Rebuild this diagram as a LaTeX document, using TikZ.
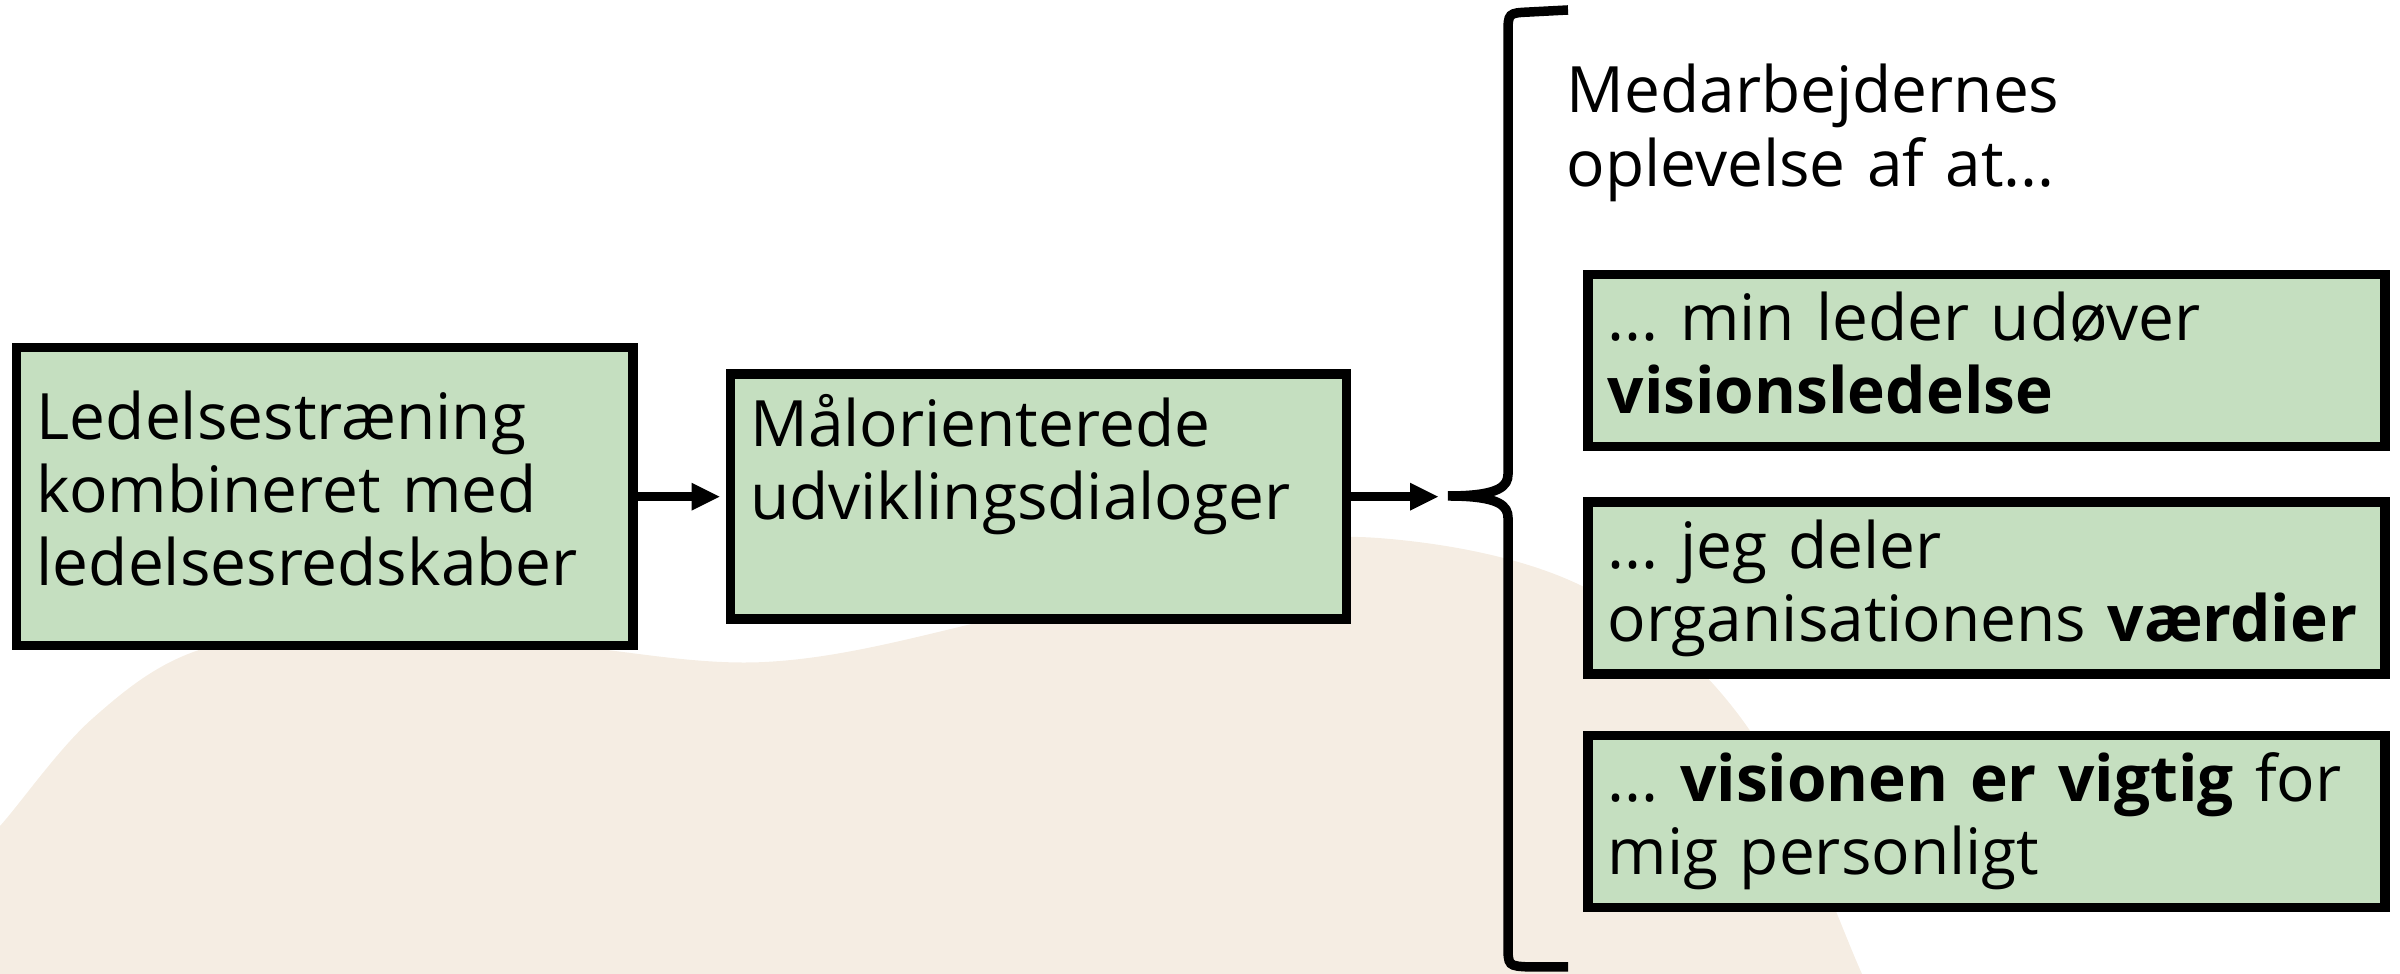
\documentclass[tikz,border=0pt]{standalone}
\usepackage{fontspec}
\setmainfont{Open Sans}
\frenchspacing
\usetikzlibrary{arrows.meta,positioning}
\definecolor{boxgreen}{HTML}{C5DFC0}
\definecolor{blobbeige}{HTML}{F5EDE3}
\tikzset{
  greenbox/.style={draw, line width=0.095cm, fill=boxgreen, anchor=north west,
    inner xsep=0.2cm, inner ysep=0pt, align=left},
  arr/.style={line width=0.095cm, shorten >=0.06cm,
    -{Triangle[length=0.28cm,width=0.28cm,line width=0pt]}},
  brace/.style={line width=0.095cm}
}
\begin{document}
\begin{tikzpicture}[font=\fontsize{18.2}{20.8}\selectfont]
	   \useasboundingbox (0,0) rectangle (24,9.74);
	   % background blob
	   \fill[blobbeige] (-0.3,-0.2) -- plot[smooth,tension=0.6] coordinates {(-0.3,1.2) (0,1.48) (0.92,2.55) (1.99,3.24) (3.5,3.42) (5.5,3.3) (7.65,3.12) (9.8,3.52) (12.0,4.15) (13.78,4.36) (15.86,3.86) (17.46,2.49) (18.62,0) (18.7,-0.2)} -- cycle;
	   % boxes
	   \node[greenbox,text width=5.76cm,text height=0.915cm,text depth=2.065cm] (lead) at (0.12,6.31)
	     {Ledelsestræning\\kombineret med\\ledelsesredskaber};
	   \node[greenbox,text width=5.76cm,text height=0.725cm,text depth=1.725cm] (mal) [right=0.88cm of lead]
	     {Målorienterede\\udviklingsdialoger};
	   \node[anchor=base west,inner sep=0pt,text width=5cm,align=left] (head) at (15.66,8.61)
	     {Medarbejdernes\\oplevelse af at...};
	   \node[greenbox,text width=7.57cm,text height=0.66cm,text depth=1.06cm] (lederen) at (15.83,7.04)
	     {... min leder udøver\\\textbf{visionsledelse}};
	   \node[greenbox,text width=7.57cm,text height=0.66cm,text depth=1.06cm] (vaerdier) [below=0.46cm of lederen]
	     {... jeg deler\\organisationens \textbf{værdier}};
	   \node[greenbox,text width=7.57cm,text height=0.66cm,text depth=1.06cm] (vision) [below=0.52cm of vaerdier]
	     {... \textbf{visionen er vigtig} for\\mig personligt};
	   % brace and arrows
	   \coordinate (tip) at (14.48,4.78);
	   \coordinate (arrend) at (14.44,4.78);
	   \draw[brace] (15.68,9.64) -- (15.30,9.62) .. controls (15.08,9.61) .. (15.08,9.40) -- (15.08,5.0)
	     .. controls (15.08,4.88) and (15.0,4.78) .. (tip)
	     .. controls (15.0,4.78) and (15.08,4.68) .. (15.08,4.56)
	     -- (15.08,0.29) .. controls (15.08,0.08) .. (15.30,0.07) -- (15.68,0.07);
	   \draw[arr] (lead.east) -- (lead.east -| mal.west);
	   \draw[arr] (mal.east) -- (mal.east -| arrend);
\end{tikzpicture}
\end{document}
